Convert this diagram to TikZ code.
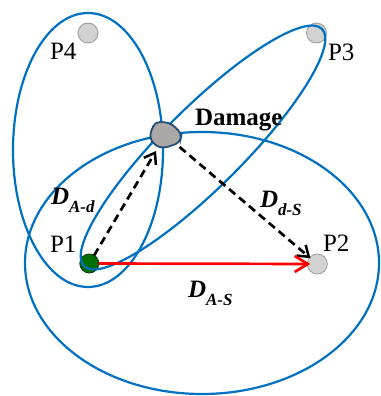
\documentclass[tikz,border=0pt]{standalone}
\usepackage{fontspec}
\setmainfont{Liberation Serif}
\usetikzlibrary{arrows.meta}
\definecolor{ellblue}{RGB}{0,112,192}
\definecolor{ptgray}{RGB}{210,210,210}
\definecolor{ptedge}{RGB}{160,160,160}
\definecolor{ptgreen}{RGB}{0,110,0}
\definecolor{greenedge}{RGB}{20,60,20}
\definecolor{dmgfill}{RGB}{172,168,168}
\definecolor{dmgedge}{RGB}{31,78,121}
\tikzset{
  ell/.style={draw=ellblue, line width=2.2pt},
  graypt/.style={circle, fill=ptgray, draw=ptedge, line width=0.9pt, minimum size=20pt, inner sep=0pt, outer sep=0pt},
  greenpt/.style={circle, fill=ptgreen, draw=greenedge, line width=0.9pt, minimum size=19pt, inner sep=0pt, outer sep=0pt},
  lbl/.style={inner sep=0pt, outer sep=0pt, anchor=base west, font=\fontsize{25}{30}\selectfont},
  dlbl/.style={inner sep=0pt, outer sep=0pt, anchor=base west, font=\fontsize{25}{30}\selectfont\bfseries\itshape},
  dasharrow/.style={draw=black, line width=2.7pt, dash pattern=on 8pt off 5pt, -{Straight Barb[length=10pt, width=14pt, line width=2.5pt]}},
  redarrow/.style={draw=red, line width=2.7pt, -{Straight Barb[length=13pt, width=16pt, line width=2.7pt]}}
}
\newcommand{\subl}[1]{{\fontsize{17}{17}\selectfont\raisebox{-8pt}{#1}}}
\begin{document}
\begin{tikzpicture}[x=1pt, y=1pt]
\useasboundingbox (0,0) rectangle (380,396);
% points
\node[graypt] (p4) at (88,363) {};
\node[graypt] (p3) at (316.5,363) {};
\node[graypt] (p2) at (317.3,132) {};
\node[greenpt] (p1) at (89.3,132.5) {};
% ellipses
\begin{scope}
\clip (0,0) rectangle (380,396);
\draw[ell] (202,133) ellipse [x radius=177, y radius=131];
\draw[ell] (88,246) ellipse [x radius=75, y radius=137];
\draw[ell, rotate around={44.9:(203,248.5)}] (203,248.5) ellipse [x radius=168, y radius=40];
\end{scope}
% damage
\node[circle, minimum size=37pt, inner sep=0pt, outer sep=0pt] (dmg) at (165.5,261) {};
\draw[fill=dmgfill, draw=dmgedge, line width=1.8pt, rounded corners=5pt]
  (149.3,260) -- (155,274.3) -- (170,273.3) -- (181.7,262.7) -- (180,253.3) -- (163.3,247.7) -- (154,251) -- cycle;
% arrows
\draw[dasharrow] (p1) -- (dmg);
\draw[dasharrow, shorten >=-1pt] (dmg) -- (p2);
\draw[redarrow, shorten >=-3pt] (p1) -- (p2);
% labels
\node[lbl] (tp4) at (50,336) {P4};
\node[lbl] (tp3) at (328,335) {P3};
\node[lbl] (tp1) at (50,143) {P1};
\node[lbl] (tp2) at (323,144) {P2};
\node[lbl, font=\fontsize{25}{30}\selectfont\bfseries] (tdmg) at (195,270) {Damage};
\node[dlbl] (tad) at (51,191) {D\subl{A-d}};
\node[dlbl] (tds) at (260,188) {D\subl{d-S}};
\node[dlbl] (tas) at (188,98) {D\subl{A-S}};
\end{tikzpicture}
\end{document}
